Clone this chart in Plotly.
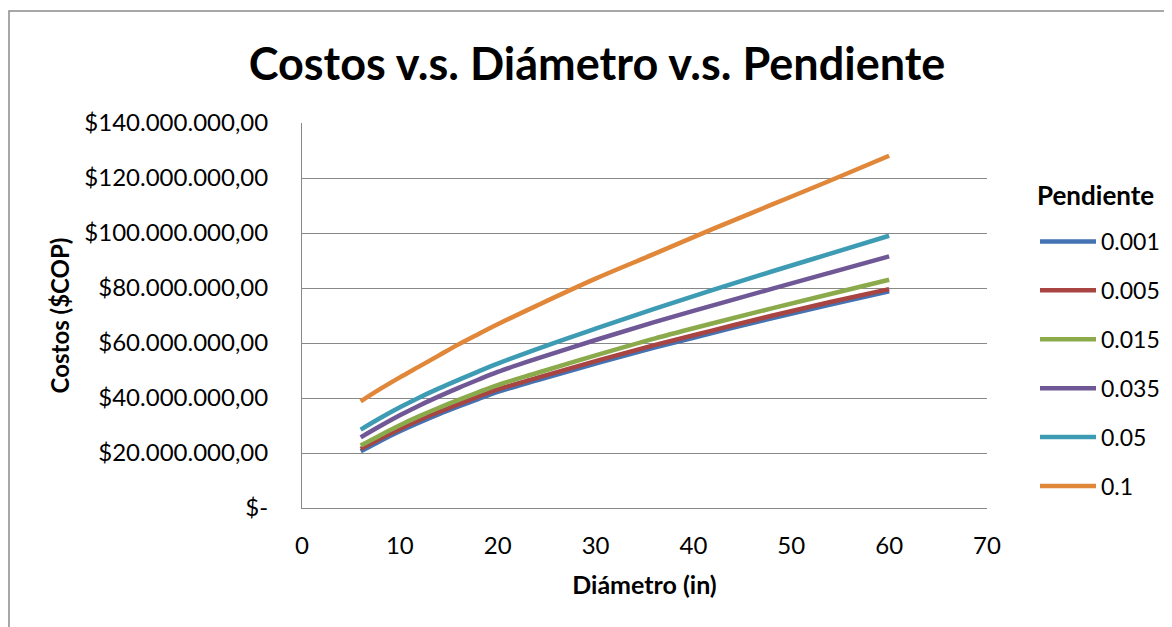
import plotly.graph_objects as go

diametro = [6, 8, 10, 12, 14, 16, 18, 20, 24, 30, 36, 42, 48, 54, 60]

pendientes = ["0.001", "0.005", "0.015", "0.035", "0.05", "0.1"]

costo_0001 = [20.6, 24.4, 27.9, 31.1, 34.1, 36.9, 39.6, 42.2, 46.4, 52.5, 58.3, 63.7, 69.0, 74.0, 78.8]
costo_0005 = [21.5, 25.25, 28.75, 32.0, 35.0, 37.8, 40.5, 43.1, 47.3, 53.4, 59.2, 64.6, 69.9, 74.9, 79.6]
costo_0015 = [22.7, 26.5, 30.1, 33.4, 36.45, 39.3, 42.05, 44.7, 49.1, 55.5, 61.6, 67.2, 72.6, 77.8, 83.0]
costo_0035 = [25.7, 29.8, 33.7, 37.3, 40.6, 43.7, 46.65, 49.5, 54.3, 61.1, 67.6, 73.7, 79.7, 85.6, 91.5]
costo_005 = [28.5, 32.7, 36.6, 40.2, 43.5, 46.6, 49.6, 52.5, 57.8, 65.2, 72.4, 79.3, 86.0, 92.5, 99.0]
costo_01 = [38.8, 43.3, 47.5, 51.5, 55.5, 59.5, 63.2, 66.8, 73.6, 83.4, 92.4, 101.5, 110.3, 119.1, 128.1]

series = [costo_0001, costo_0005, costo_0015, costo_0035, costo_005, costo_01]
colores = ["#4472B2", "#A84441", "#8AAA4B", "#705896", "#3E9BB4", "#E0873A"]

y_tickvals = [0, 20e6, 40e6, 60e6, 80e6, 100e6, 120e6, 140e6]
y_ticktext = ["$-", "$20.000.000,00", "$40.000.000,00", "$60.000.000,00",
              "$80.000.000,00", "$100.000.000,00", "$120.000.000,00", "$140.000.000,00"]
x_tickvals = [0, 10, 20, 30, 40, 50, 60, 70]

FONT = "Lato"

fig = go.Figure()
for name, vals, col in zip(pendientes, series, colores):
    fig.add_trace(go.Scatter(
        x=diametro, y=[v * 1e6 for v in vals], mode="lines", name=name,
        legendgroup=name,
        line=dict(color=col, width=4.5, shape="spline"),
    ))

# page has an 8px body margin; figure coordinates are page coordinates minus 8
W, H = 1164, 619
L, R, T, B = 294, 185, 115, 119
PW = W - L - R
PH = H - T - B

grid = "#888888"
fig.update_layout(
    width=W, height=H, autosize=False,
    paper_bgcolor="white", plot_bgcolor="white",
    margin=dict(l=L, r=R, t=T, b=B, autoexpand=False),
    font=dict(family=FONT, color="black", size=24),
    title=dict(text="<b>Costos v.s. Diámetro v.s. Pendiente</b>",
               x=589 / W, xanchor="center", y=1 - 56 / H, yanchor="middle",
               font=dict(family=FONT, size=45, color="black")),
    xaxis=dict(range=[0, 70], tickvals=x_tickvals, showgrid=False,
               showline=True, linecolor=grid, linewidth=1, ticks="",
               zeroline=False, tickfont=dict(size=24), ticklabelstandoff=16,
               automargin=False,
               title=dict(text="<b>Diámetro (in)</b>", font=dict(size=25), standoff=18)),
    yaxis=dict(range=[0, 140e6], tickvals=y_tickvals, ticktext=y_ticktext,
               showgrid=True, gridcolor=grid, gridwidth=1,
               showline=True, linecolor=grid, linewidth=1, ticks="",
               zeroline=False, tickfont=dict(size=24), ticklabelstandoff=28,
               automargin=False,
               title=dict(text="<b>Costos ($COP)</b>", font=dict(size=24), standoff=7)),
    legend=dict(x=(1027 - L) / PW, xanchor="left", y=(T + PH - 212) / PH, yanchor="top",
                font=dict(size=23), tracegroupgap=16, itemwidth=56,
                bgcolor="rgba(0,0,0,0)"),
    annotations=[dict(text="<b>Pendiente</b>", xref="paper", yref="paper",
                      x=(1087 - L) / PW, y=(T + PH - 187) / PH,
                      xanchor="center", yanchor="middle", showarrow=False,
                      font=dict(size=26, family=FONT, color="black"))],
    shapes=[dict(type="rect", xref="paper", yref="paper",
                 x0=(1 - L) / PW, x1=1.6, y0=-0.6, y1=(T + PH - 3) / PH,
                 line=dict(color="#8a8a8a", width=1.5), fillcolor="rgba(0,0,0,0)", layer="below")],
)

fig.write_html("out.html")
